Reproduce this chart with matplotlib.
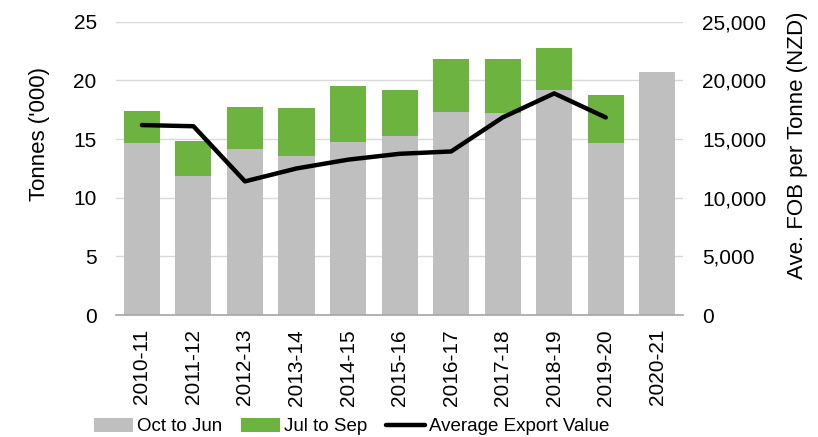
import matplotlib
matplotlib.use("Agg")
import matplotlib.pyplot as plt
import numpy as np

plt.rcParams['font.family'] = ['Liberation Sans', 'DejaVu Sans']

seasons = ["2010-11", "2011-12", "2012-13", "2013-14", "2014-15", "2015-16",
           "2016-17", "2017-18", "2018-19", "2019-20", "2020-21"]
oct_to_jun = [14.65, 11.9, 14.2, 13.55, 14.75, 15.3, 17.3, 17.25, 19.2, 14.7, 20.75]
jul_to_sep = [2.75, 2.95, 3.5, 4.1, 4.75, 3.85, 4.55, 4.6, 3.55, 4.1, 0.0]
avg_export_value = [16200, 16100, 11400, 12500, 13250, 13750, 13950, 16850, 18900, 16850]

fig = plt.figure(figsize=(8.18, 4.37), dpi=100)
ax = fig.add_axes([0.142, 0.279, 0.693, 0.671])
ax2 = ax.twinx()

x = np.arange(len(seasons))
w = 0.70
b1 = ax.bar(x, oct_to_jun, width=w, color="#bfbfbf", label="Oct to Jun", zorder=2)
b2 = ax.bar(x, jul_to_sep, width=w, bottom=oct_to_jun, color="#6db33f", label="Jul to Sep", zorder=2)
ln, = ax2.plot(x[:len(avg_export_value)], avg_export_value, color="black", lw=3.2,
               solid_capstyle="round", solid_joinstyle="round", label="Average Export Value")

ax.set_xlim(-0.5, len(seasons) - 0.5)
ax.set_ylim(0, 25)
ax2.set_ylim(0, 25000)
ax.set_yticks(np.arange(0, 26, 5))
ax2.set_yticks(np.arange(0, 25001, 5000))
ax2.set_yticklabels([f"{v:,}" for v in range(0, 25001, 5000)])
ax.set_xticks(x)
ax.set_xticklabels(seasons, rotation=90)

ax.grid(axis="y", color="#d9d9d9", lw=1.0, zorder=0)
ax.set_axisbelow(True)
for a in (ax, ax2):
    for s in ("top", "left", "right", "bottom"):
        a.spines[s].set_visible(False)
ax.spines["bottom"].set_visible(True)
ax.spines["bottom"].set_color("#a6a6a6")
ax.spines["bottom"].set_linewidth(1.2)

ax.tick_params(axis="y", length=0, pad=14, labelsize=15, colors="black")
ax2.tick_params(axis="y", length=0, pad=14, labelsize=15, colors="black")
ax.tick_params(axis="x", length=0, pad=10, labelsize=15)

fig.text(40 / 818, 1 - 134 / 437, "Tonnes ('000)", rotation=90, fontsize=16,
         ha="center", va="center")
fig.text(797 / 818, 1 - 145 / 437, "Ave. FOB per Tonne (NZD)", rotation=90, fontsize=16,
         ha="center", va="center")

fig.legend(handles=[b1, b2, ln], labels=["Oct to Jun", "Jul to Sep", "Average Export Value"],
           loc="center", bbox_to_anchor=(0.43, 0.024), ncol=3, frameon=False,
           fontsize=13.5, handlelength=2.1, handleheight=0.8, columnspacing=1.0,
           handletextpad=0.2)

fig.savefig("out.png", dpi=100)
